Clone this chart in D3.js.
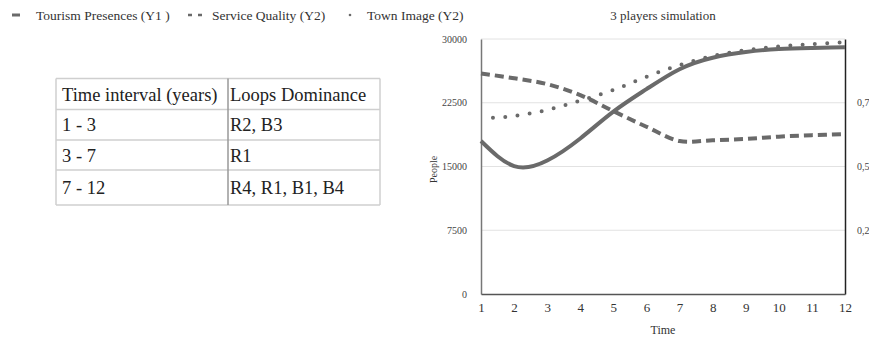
<!DOCTYPE html>
<html>
<head>
<meta charset="utf-8">
<script src="https://cdn.jsdelivr.net/npm/d3@7"></script>
<style>
  html, body { margin: 0; padding: 0; background: #fff; }
  svg { display: block; font-family: "Liberation Serif", "Times New Roman", serif; }
  svg text { font-family: "Liberation Serif", "Times New Roman", serif; }
</style>
</head>
<body>
<svg id="chart" width="869" height="337"></svg>
<script>
// Simulation output, one value per year
const years = [1, 2, 3, 4, 5, 6, 7, 8, 9, 10, 11, 12];
const tourismPresences = [18000, 15050, 15700, 18300, 21450, 24100, 26450, 27800, 28470, 28820, 28940, 29020];
const serviceQuality = [0.865, 0.846, 0.823, 0.78, 0.717, 0.656, 0.6, 0.603, 0.608, 0.617, 0.623, 0.627];
const townImage = [0.688, 0.698, 0.722, 0.758, 0.8, 0.852, 0.898, 0.933, 0.956, 0.971, 0.98, 0.987];

const leftTicks = [0, 7500, 15000, 22500, 30000];
const rightTicks = [0.25, 0.5, 0.75];

const seriesNames = ["Tourism Presences (Y1 )", "Service Quality (Y2)", "Town Image (Y2)"];
const chartTitle = "3 players simulation";

// Loop dominance table
const tableHeader = ["Time interval (years)", "Loops Dominance"];
const intervals = ["1 - 3", "3 - 7", "7 - 12"];
const dominantLoops = ["R2, B3", "R1", "R4, R1, B1, B4"];

const svg = d3.select("#chart");
const lineColor = "#6a6a6a";
const serif = "'Liberation Serif', 'Times New Roman', serif";

const plot = { left: 481, right: 845, top: 39, bottom: 294 };
const x = d3.scaleLinear().domain([1, 12]).range([plot.left, plot.right]);
const yL = d3.scaleLinear().domain([0, 30000]).range([plot.bottom, plot.top]);
const yR = d3.scaleLinear().domain([0, 1]).range([plot.bottom, plot.top]);

// gridlines
svg.append("g")
  .selectAll("line")
  .data(leftTicks.filter(d => d > 0))
  .join("line")
  .attr("x1", plot.left).attr("x2", plot.right)
  .attr("y1", d => yL(d)).attr("y2", d => yL(d))
  .attr("stroke", "#e2e2e2").attr("stroke-width", 1);

// left axis
const leftAxis = svg.append("g")
  .attr("transform", `translate(${plot.left},0)`)
  .call(d3.axisLeft(yL).tickValues(leftTicks).tickSize(0).tickPadding(14).tickFormat(d3.format("d")));
leftAxis.attr("font-family", null);
leftAxis.select(".domain").attr("stroke", "#777").attr("stroke-width", 1.5);
leftAxis.selectAll("text").style("font-family", serif).attr("font-size", 10).attr("fill", "#444");

// right axis
const rightAxis = svg.append("g")
  .attr("transform", `translate(${plot.right},0)`)
  .call(d3.axisRight(yR).tickValues(rightTicks).tickSize(0).tickPadding(12)
    .tickFormat(d => d3.format(".2")(d).replace(".", ",")));
rightAxis.attr("font-family", null);
rightAxis.select(".domain").attr("stroke", "#222").attr("stroke-width", 1.5);
rightAxis.selectAll("text").style("font-family", serif).attr("font-size", 10).attr("fill", "#444");

// bottom axis
const bottomAxis = svg.append("g")
  .attr("transform", `translate(0,${plot.bottom})`)
  .call(d3.axisBottom(x).tickValues(years).tickSize(0).tickPadding(9).tickFormat(d3.format("d")));
bottomAxis.attr("font-family", null);
bottomAxis.select(".domain").attr("stroke", "#555").attr("stroke-width", 1.5);
bottomAxis.selectAll("text").style("font-family", serif).attr("font-size", 13).attr("fill", "#333");

// axis titles and chart title
svg.append("text")
  .attr("x", (plot.left + plot.right) / 2).attr("y", 334)
  .attr("text-anchor", "middle").attr("font-size", 12).attr("fill", "#333")
  .text("Time");
svg.append("text")
  .attr("transform", `translate(437,${(plot.top + plot.bottom) / 2 + 3}) rotate(-90)`)
  .attr("text-anchor", "middle").attr("font-size", 10).attr("fill", "#333")
  .text("People");
svg.append("text")
  .attr("x", 663).attr("y", 20)
  .attr("text-anchor", "middle").attr("font-size", 13).attr("fill", "#333")
  .text(chartTitle);

// series lines
const solidLine = d3.line().x((d, i) => x(years[i])).y(d => yL(d)).curve(d3.curveNatural);
const rightLine = d3.line().x((d, i) => x(years[i])).y(d => yR(d)).curve(d3.curveCatmullRom);

svg.append("path")
  .datum(serviceQuality)
  .attr("d", rightLine)
  .attr("fill", "none").attr("stroke", lineColor)
  .attr("stroke-width", 4).attr("stroke-dasharray", "9 5");

svg.append("path")
  .datum(townImage)
  .attr("d", rightLine)
  .attr("fill", "none").attr("stroke", lineColor)
  .attr("stroke-width", 4).attr("stroke-linecap", "round")
  .attr("stroke-dasharray", "0 12.3").attr("stroke-dashoffset", 0.3 - 12.3);

svg.append("path")
  .datum(tourismPresences)
  .attr("d", solidLine)
  .attr("fill", "none").attr("stroke", lineColor)
  .attr("stroke-width", 4).attr("stroke-linejoin", "round");

// legend
const legend = svg.append("g").attr("font-size", 13.5).attr("fill", "#333");
const legendItems = [
  { name: seriesNames[0], x: 12, text: 36, kind: "solid" },
  { name: seriesNames[1], x: 188, text: 212, kind: "dash" },
  { name: seriesNames[2], x: 350, text: 367, kind: "dot" }
];
legendItems.forEach(item => {
  if (item.kind === "solid") {
    legend.append("line").attr("x1", item.x).attr("x2", item.x + 8).attr("y1", 15).attr("y2", 15)
      .attr("stroke", lineColor).attr("stroke-width", 3);
  } else if (item.kind === "dash") {
    legend.append("line").attr("x1", item.x).attr("x2", item.x + 14).attr("y1", 15).attr("y2", 15)
      .attr("stroke", lineColor).attr("stroke-width", 2.5).attr("stroke-dasharray", "4 6");
  } else {
    legend.append("circle").attr("cx", item.x).attr("cy", 15).attr("r", 1.3).attr("fill", lineColor);
  }
  legend.append("text").attr("x", item.text).attr("y", 19.5).text(item.name);
});

// table
const table = { left: 56, right: 380, split: 228, rows: [78.5, 109.5, 140, 170, 205] };
const tg = svg.append("g");
const rowsData = [tableHeader].concat(intervals.map((d, i) => [d, dominantLoops[i]]));
tg.selectAll("line.h")
  .data(table.rows)
  .join("line")
  .attr("x1", table.left).attr("x2", table.right)
  .attr("y1", d => d).attr("y2", d => d)
  .attr("stroke", "#cfcfcf").attr("stroke-width", 1.5);
tg.selectAll("line.v")
  .data([table.left, table.split, table.right])
  .join("line")
  .attr("x1", d => d).attr("x2", d => d)
  .attr("y1", table.rows[0]).attr("y2", table.rows[table.rows.length - 1])
  .attr("stroke", (d, i) => i === 1 ? "#999" : "#cfcfcf").attr("stroke-width", 1.5);
rowsData.forEach((row, r) => {
  const yMid = (table.rows[r] + table.rows[r + 1]) / 2;
  row.forEach((cell, c) => {
    tg.append("text")
      .attr("x", c === 0 ? table.left + 6 : table.split + 2)
      .attr("y", yMid + 6.5)
      .attr("font-size", 18.5).attr("fill", "#222")
      .text(cell);
  });
});
</script>
</body>
</html>
